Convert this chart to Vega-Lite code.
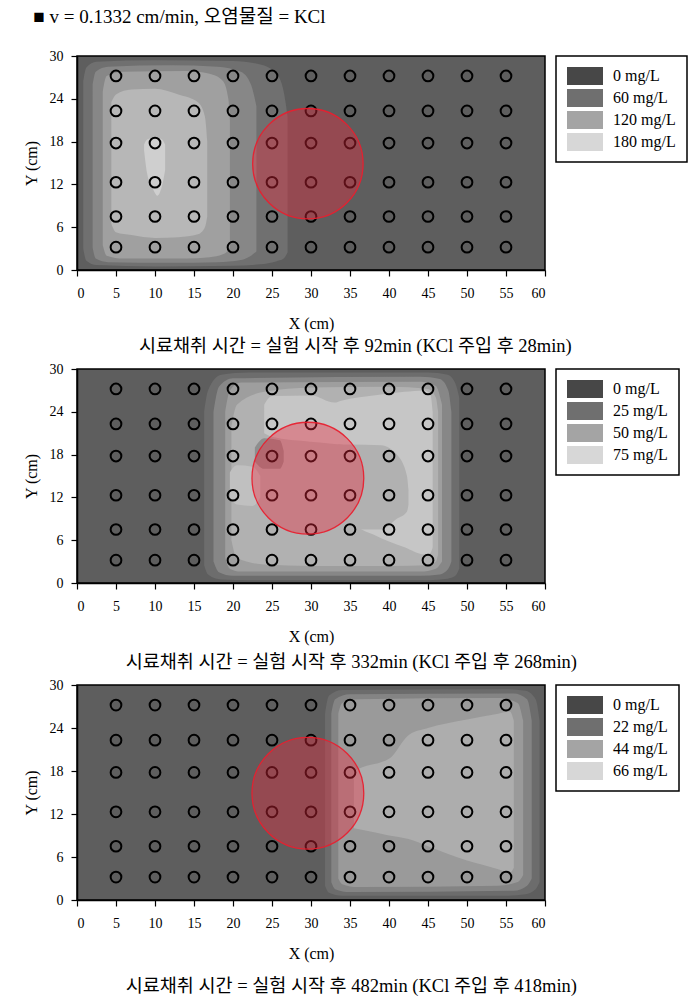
{
  "$schema": "https://vega.github.io/schema/vega-lite/v6.json",
  "background": "white",
  "padding": {"left": 22, "top": 8, "right": 4, "bottom": 5},
  "title": {"text": "■  v = 0.1332 cm/min,  오염물질 = KCl", "anchor": "start", "frame": "bounds", "font": "Liberation Serif, Noto Sans CJK KR", "fontSize": 19, "fontWeight": "normal", "color": "#000", "offset": 21, "dx": 11},
  "config": {
    "font": "Liberation Serif",
    "view": {"fill": "#5e5e5e", "stroke": "#000000", "strokeWidth": 1.5},
    "axis": {"grid": false, "domainColor": "#000", "domainWidth": 1.5, "tickColor": "#000", "tickSize": 6, "tickWidth": 1.2, "labelFont": "Liberation Serif", "labelFontSize": 14, "labelColor": "#000", "labelOverlap": false, "titleFont": "Liberation Serif", "titleFontSize": 16, "titleFontWeight": "normal", "titleColor": "#000"},
    "axisX": {"labelPadding": 10, "titlePadding": 15, "labelAngle": 0, "labelOverlap": false, "labelSeparation": 0},
    "axisY": {"labelPadding": 8, "titlePadding": 10},
    "legend": {"orient": "right", "offset": 11, "padding": 11, "strokeColor": "#000", "strokeWidth": 1.5, "fillColor": "#ffffff", "symbolType": "M-2,-1H2V1H-2Z", "symbolSize": 324, "symbolOffset": 9, "symbolStrokeWidth": 0, "symbolOpacity": 1, "labelFont": "Liberation Serif", "labelFontSize": 16, "labelColor": "#000", "labelOffset": 19, "rowPadding": 4, "labelLimit": 200},
    "title": {"font": "Liberation Serif, Noto Sans CJK KR", "fontSize": 18.5, "fontWeight": "normal", "color": "#000"}
  },
  "datasets": {
    "pts": [
      {"x": 5, "y": 3.2}, {"x": 10, "y": 3.2}, {"x": 15, "y": 3.2}, {"x": 20, "y": 3.2}, {"x": 25, "y": 3.2}, {"x": 30, "y": 3.2}, {"x": 35, "y": 3.2}, {"x": 40, "y": 3.2}, {"x": 45, "y": 3.2}, {"x": 50, "y": 3.2}, {"x": 55, "y": 3.2},
      {"x": 5, "y": 7.5}, {"x": 10, "y": 7.5}, {"x": 15, "y": 7.5}, {"x": 20, "y": 7.5}, {"x": 25, "y": 7.5}, {"x": 30, "y": 7.5}, {"x": 35, "y": 7.5}, {"x": 40, "y": 7.5}, {"x": 45, "y": 7.5}, {"x": 50, "y": 7.5}, {"x": 55, "y": 7.5},
      {"x": 5, "y": 12.3}, {"x": 10, "y": 12.3}, {"x": 15, "y": 12.3}, {"x": 20, "y": 12.3}, {"x": 25, "y": 12.3}, {"x": 30, "y": 12.3}, {"x": 35, "y": 12.3}, {"x": 40, "y": 12.3}, {"x": 45, "y": 12.3}, {"x": 50, "y": 12.3}, {"x": 55, "y": 12.3},
      {"x": 5, "y": 17.8}, {"x": 10, "y": 17.8}, {"x": 15, "y": 17.8}, {"x": 20, "y": 17.8}, {"x": 25, "y": 17.8}, {"x": 30, "y": 17.8}, {"x": 35, "y": 17.8}, {"x": 40, "y": 17.8}, {"x": 45, "y": 17.8}, {"x": 50, "y": 17.8}, {"x": 55, "y": 17.8},
      {"x": 5, "y": 22.3}, {"x": 10, "y": 22.3}, {"x": 15, "y": 22.3}, {"x": 20, "y": 22.3}, {"x": 25, "y": 22.3}, {"x": 30, "y": 22.3}, {"x": 35, "y": 22.3}, {"x": 40, "y": 22.3}, {"x": 45, "y": 22.3}, {"x": 50, "y": 22.3}, {"x": 55, "y": 22.3},
      {"x": 5, "y": 27.2}, {"x": 10, "y": 27.2}, {"x": 15, "y": 27.2}, {"x": 20, "y": 27.2}, {"x": 25, "y": 27.2}, {"x": 30, "y": 27.2}, {"x": 35, "y": 27.2}, {"x": 40, "y": 27.2}, {"x": 45, "y": 27.2}, {"x": 50, "y": 27.2}, {"x": 55, "y": 27.2}
    ],
    "c1": [{"x": 29.6, "y": 14.9}],
    "c2": [{"x": 29.6, "y": 14.7}],
    "c3": [{"x": 29.6, "y": 14.9}],
    "p1": [
      {"band": "A", "x": 0.8, "top": 26.5, "bot": 3},
      {"band": "A", "x": 1.2, "top": 28.4, "bot": 1.3},
      {"band": "A", "x": 2.5, "top": 29.2, "bot": 0.7},
      {"band": "A", "x": 10, "top": 29.4, "bot": 0.5},
      {"band": "A", "x": 20, "top": 29.3, "bot": 0.6},
      {"band": "A", "x": 23.5, "top": 28.8, "bot": 0.8},
      {"band": "A", "x": 25.5, "top": 27.6, "bot": 1.2},
      {"band": "A", "x": 26.5, "top": 25, "bot": 1.6},
      {"band": "A", "x": 27, "top": 21.5, "bot": 2.5},
      {"band": "B", "x": 2.0, "top": 26, "bot": 3.2},
      {"band": "B", "x": 2.4, "top": 27.8, "bot": 1.6},
      {"band": "B", "x": 4, "top": 28.5, "bot": 1.1},
      {"band": "B", "x": 12, "top": 28.7, "bot": 1.0},
      {"band": "B", "x": 18, "top": 28.5, "bot": 1.1},
      {"band": "B", "x": 21, "top": 27.8, "bot": 1.4},
      {"band": "B", "x": 22.3, "top": 26, "bot": 2},
      {"band": "B", "x": 23, "top": 23, "bot": 2.6},
      {"band": "C", "x": 3.3, "top": 25, "bot": 3.5},
      {"band": "C", "x": 3.8, "top": 27.2, "bot": 2},
      {"band": "C", "x": 6, "top": 27.8, "bot": 1.6},
      {"band": "C", "x": 14, "top": 27.9, "bot": 1.6},
      {"band": "C", "x": 17, "top": 27.5, "bot": 1.8},
      {"band": "C", "x": 18.7, "top": 26.5, "bot": 2.2},
      {"band": "C", "x": 19.4, "top": 24, "bot": 2.8},
      {"band": "C", "x": 19.6, "top": 21, "bot": 3.2},
      {"band": "D", "x": 4.4, "top": 23.5, "bot": 6.5},
      {"band": "D", "x": 5, "top": 24.6, "bot": 5.3},
      {"band": "D", "x": 7, "top": 25.3, "bot": 4.9},
      {"band": "D", "x": 10, "top": 25.4, "bot": 4.5},
      {"band": "D", "x": 13, "top": 24.6, "bot": 4.6},
      {"band": "D", "x": 15.5, "top": 23.5, "bot": 5},
      {"band": "D", "x": 16.4, "top": 21.5, "bot": 6},
      {"band": "D", "x": 16.7, "top": 18, "bot": 7.5},
      {"band": "E", "x": 8.6, "top": 17.6, "bot": 16.8},
      {"band": "E", "x": 9.0, "top": 18.3, "bot": 13.5},
      {"band": "E", "x": 9.8, "top": 18.5, "bot": 11.2},
      {"band": "E", "x": 10.3, "top": 18.5, "bot": 10.4},
      {"band": "E", "x": 10.9, "top": 18.3, "bot": 11.8},
      {"band": "E", "x": 11.3, "top": 17.6, "bot": 14}
    ],
    "p2": [
      {"band": "A", "x": 16.3, "top": 24, "bot": 2.5},
      {"band": "A", "x": 16.8, "top": 27, "bot": 1.2},
      {"band": "A", "x": 18.5, "top": 29.2, "bot": 0.5},
      {"band": "A", "x": 22, "top": 29.5, "bot": 0.4},
      {"band": "A", "x": 45, "top": 29.5, "bot": 0.4},
      {"band": "A", "x": 47.5, "top": 29.2, "bot": 0.6},
      {"band": "A", "x": 48.5, "top": 28, "bot": 1},
      {"band": "A", "x": 49, "top": 26, "bot": 2},
      {"band": "B", "x": 17.5, "top": 24, "bot": 3},
      {"band": "B", "x": 18.2, "top": 27.5, "bot": 1.5},
      {"band": "B", "x": 20, "top": 28.7, "bot": 1},
      {"band": "B", "x": 44, "top": 28.9, "bot": 1},
      {"band": "B", "x": 46.5, "top": 28.6, "bot": 1.2},
      {"band": "B", "x": 47.6, "top": 27, "bot": 2},
      {"band": "B", "x": 48, "top": 24, "bot": 3},
      {"band": "C", "x": 19, "top": 24, "bot": 3.5},
      {"band": "C", "x": 19.6, "top": 27, "bot": 2},
      {"band": "C", "x": 21, "top": 28.1, "bot": 1.6},
      {"band": "C", "x": 44, "top": 28.2, "bot": 1.6},
      {"band": "C", "x": 46, "top": 27.6, "bot": 2},
      {"band": "C", "x": 46.8, "top": 25, "bot": 3},
      {"band": "D", "x": 19.8, "top": 22, "bot": 6},
      {"band": "D", "x": 20.5, "top": 25, "bot": 3.5},
      {"band": "D", "x": 24, "top": 26.8, "bot": 2.6},
      {"band": "D", "x": 30, "top": 27.4, "bot": 2.4},
      {"band": "D", "x": 40, "top": 27.5, "bot": 2.4},
      {"band": "D", "x": 45, "top": 27.2, "bot": 2.5},
      {"band": "D", "x": 46, "top": 26, "bot": 3},
      {"band": "D", "x": 46.3, "top": 24, "bot": 4},
      {"band": "E", "x": 24, "top": 25, "bot": 21},
      {"band": "E", "x": 25, "top": 26.2, "bot": 20.5},
      {"band": "E", "x": 30, "top": 26.3, "bot": 19.8},
      {"band": "E", "x": 33, "top": 25.3, "bot": 19.5},
      {"band": "E", "x": 34, "top": 25.6, "bot": 19.4},
      {"band": "E", "x": 36, "top": 26, "bot": 8},
      {"band": "E", "x": 38, "top": 26.3, "bot": 6.8},
      {"band": "E", "x": 42, "top": 26.8, "bot": 5},
      {"band": "E", "x": 44.5, "top": 27, "bot": 4},
      {"band": "E", "x": 45.3, "top": 26.5, "bot": 4.2},
      {"band": "E", "x": 45.6, "top": 24, "bot": 5},
      {"band": "N", "x": 33.5, "top": 19.4, "bot": 19.3},
      {"band": "N", "x": 35, "top": 19.4, "bot": 7.5},
      {"band": "N", "x": 39, "top": 19.3, "bot": 7.5},
      {"band": "N", "x": 41, "top": 18, "bot": 9},
      {"band": "N", "x": 42.3, "top": 15, "bot": 10},
      {"band": "N", "x": 42.5, "top": 13, "bot": 11},
      {"band": "E2", "x": 19.6, "top": 15.5, "bot": 12},
      {"band": "E2", "x": 20.5, "top": 16.5, "bot": 11},
      {"band": "E2", "x": 22.5, "top": 16.3, "bot": 10.8},
      {"band": "E2", "x": 23.5, "top": 15, "bot": 12},
      {"band": "K", "x": 22.8, "top": 19, "bot": 17},
      {"band": "K", "x": 24, "top": 20.3, "bot": 16},
      {"band": "K", "x": 26, "top": 20, "bot": 16},
      {"band": "K", "x": 26.5, "top": 18.5, "bot": 17}
    ],
    "p3": [
      {"band": "A", "x": 31.8, "top": 26, "bot": 2},
      {"band": "A", "x": 32.3, "top": 28.5, "bot": 1},
      {"band": "A", "x": 34, "top": 29.3, "bot": 0.6},
      {"band": "A", "x": 55, "top": 29.4, "bot": 0.6},
      {"band": "A", "x": 57.5, "top": 29.2, "bot": 0.8},
      {"band": "A", "x": 58.8, "top": 28, "bot": 1.5},
      {"band": "A", "x": 59.3, "top": 25, "bot": 2.5},
      {"band": "B", "x": 32.6, "top": 26, "bot": 2.5},
      {"band": "B", "x": 33.1, "top": 28, "bot": 1.5},
      {"band": "B", "x": 35, "top": 28.7, "bot": 1.1},
      {"band": "B", "x": 56, "top": 28.8, "bot": 1.3},
      {"band": "B", "x": 57.7, "top": 28, "bot": 2},
      {"band": "B", "x": 58.3, "top": 25, "bot": 3},
      {"band": "C", "x": 33.5, "top": 26, "bot": 3},
      {"band": "C", "x": 34, "top": 27.5, "bot": 2.2},
      {"band": "C", "x": 36, "top": 28, "bot": 1.8},
      {"band": "C", "x": 54, "top": 28.2, "bot": 2},
      {"band": "C", "x": 56.5, "top": 27.5, "bot": 2.5},
      {"band": "C", "x": 57.2, "top": 25, "bot": 3.5},
      {"band": "D", "x": 35.5, "top": 18, "bot": 10},
      {"band": "D", "x": 36.5, "top": 18.5, "bot": 9.8},
      {"band": "D", "x": 40, "top": 19.7, "bot": 9},
      {"band": "D", "x": 42.5, "top": 23, "bot": 8.5},
      {"band": "D", "x": 45, "top": 24, "bot": 7.5},
      {"band": "D", "x": 50, "top": 25.2, "bot": 5.5},
      {"band": "D", "x": 54, "top": 26, "bot": 4.3},
      {"band": "D", "x": 55.5, "top": 26.3, "bot": 3.8},
      {"band": "D", "x": 56, "top": 25, "bot": 4.5}
    ]
  },
  "vconcat": [
    {
      "width": 468, "height": 214,
      "title": {"text": "시료채취 시간 = 실험 시작 후 92min (KCl 주입 후 28min)", "orient": "bottom", "anchor": "middle", "frame": "bounds", "offset": 6},
      "layer": [
        {"data": {"name": "p1"}, "mark": {"type": "area", "interpolate": "monotone", "opacity": 1},
         "encoding": {
           "x": {"field": "x", "type": "quantitative", "scale": {"domain": [0, 60], "nice": false}, "axis": {"values": [0,5,10,15,20,25,30,35,40,45,50,55,60], "tickCount": 13, "labelOverlap": false, "title": "X (cm)"}},
           "y": {"field": "top", "type": "quantitative", "stack": null, "scale": {"domain": [0, 30], "nice": false}, "axis": {"values": [0,6,12,18,24,30], "title": "Y (cm)"}},
           "y2": {"field": "bot"},
           "color": {"field": "band", "type": "nominal", "scale": {"domain": ["0 mg/L", "60 mg/L", "120 mg/L", "180 mg/L", "A", "B", "C", "D", "E"], "range": ["#474747", "#6f6f6f", "#a4a4a4", "#d7d7d7", "#707070", "#878787", "#a0a0a0", "#b7b7b7", "#cfcfcf"]}, "legend": {"values": ["0 mg/L", "60 mg/L", "120 mg/L", "180 mg/L"], "title": null, "symbolType": "M-2,-1H2V1H-2Z"}}
         }},
        {"data": {"name": "pts"}, "mark": {"type": "point", "shape": "circle", "filled": false, "stroke": "#000", "strokeWidth": 2, "size": 115, "opacity": 1},
         "encoding": {"x": {"field": "x", "type": "quantitative", "axis": {"values": [0,5,10,15,20,25,30,35,40,45,50,55,60], "tickCount": 13, "labelOverlap": false, "title": "X (cm)"}}, "y": {"field": "y", "type": "quantitative"}}},
        {"data": {"name": "c1"}, "mark": {"type": "point", "shape": "circle", "filled": true, "fill": "#f0283c", "fillOpacity": 0.38, "stroke": "#e8202f", "strokeWidth": 1.3, "strokeOpacity": 0.95, "opacity": 1, "size": 12200},
         "encoding": {"x": {"field": "x", "type": "quantitative", "axis": {"values": [0,5,10,15,20,25,30,35,40,45,50,55,60], "tickCount": 13, "labelOverlap": false, "title": "X (cm)"}}, "y": {"field": "y", "type": "quantitative"}}}
      ]
    },
    {
      "width": 468, "height": 214,
      "title": {"text": "시료채취 시간 = 실험 시작 후 332min (KCl 주입 후 268min)", "orient": "bottom", "anchor": "middle", "frame": "bounds", "offset": 9},
      "layer": [
        {"data": {"name": "p2"}, "mark": {"type": "area", "interpolate": "monotone", "opacity": 1},
         "encoding": {
           "x": {"field": "x", "type": "quantitative", "scale": {"domain": [0, 60], "nice": false}, "axis": {"values": [0,5,10,15,20,25,30,35,40,45,50,55,60], "tickCount": 13, "labelOverlap": false, "title": "X (cm)"}},
           "y": {"field": "top", "type": "quantitative", "stack": null, "scale": {"domain": [0, 30], "nice": false}, "axis": {"values": [0,6,12,18,24,30], "title": "Y (cm)"}},
           "y2": {"field": "bot"},
           "color": {"field": "band", "type": "nominal", "scale": {"domain": ["0 mg/L", "25 mg/L", "50 mg/L", "75 mg/L", "A", "B", "C", "D", "E", "N", "E2", "K"], "range": ["#474747", "#6f6f6f", "#a4a4a4", "#d7d7d7", "#6d6d6d", "#878787", "#9e9e9e", "#b1b1b1", "#c6c6c6", "#b1b1b1", "#c0c0c0", "#8e8e8e"]}, "legend": {"values": ["0 mg/L", "25 mg/L", "50 mg/L", "75 mg/L"], "title": null, "symbolType": "M-2,-1H2V1H-2Z"}}
         }},
        {"data": {"name": "pts"}, "mark": {"type": "point", "shape": "circle", "filled": false, "stroke": "#000", "strokeWidth": 2, "size": 115, "opacity": 1},
         "encoding": {"x": {"field": "x", "type": "quantitative", "axis": {"values": [0,5,10,15,20,25,30,35,40,45,50,55,60], "tickCount": 13, "labelOverlap": false, "title": "X (cm)"}}, "y": {"field": "y", "type": "quantitative"}}},
        {"data": {"name": "c2"}, "mark": {"type": "point", "shape": "circle", "filled": true, "fill": "#f0283c", "fillOpacity": 0.38, "stroke": "#e8202f", "strokeWidth": 1.3, "strokeOpacity": 0.95, "opacity": 1, "size": 12500},
         "encoding": {"x": {"field": "x", "type": "quantitative", "axis": {"values": [0,5,10,15,20,25,30,35,40,45,50,55,60], "tickCount": 13, "labelOverlap": false, "title": "X (cm)"}}, "y": {"field": "y", "type": "quantitative"}}}
      ]
    },
    {
      "width": 468, "height": 215,
      "title": {"text": "시료채취 시간 = 실험 시작 후 482min (KCl 주입 후 418min)", "orient": "bottom", "anchor": "middle", "frame": "bounds", "offset": 16},
      "layer": [
        {"data": {"name": "p3"}, "mark": {"type": "area", "interpolate": "monotone", "opacity": 1},
         "encoding": {
           "x": {"field": "x", "type": "quantitative", "scale": {"domain": [0, 60], "nice": false}, "axis": {"values": [0,5,10,15,20,25,30,35,40,45,50,55,60], "tickCount": 13, "labelOverlap": false, "title": "X (cm)"}},
           "y": {"field": "top", "type": "quantitative", "stack": null, "scale": {"domain": [0, 30], "nice": false}, "axis": {"values": [0,6,12,18,24,30], "title": "Y (cm)"}},
           "y2": {"field": "bot"},
           "color": {"field": "band", "type": "nominal", "scale": {"domain": ["0 mg/L", "22 mg/L", "44 mg/L", "66 mg/L", "A", "B", "C", "D"], "range": ["#474747", "#6f6f6f", "#a4a4a4", "#d7d7d7", "#6c6c6c", "#848484", "#9a9a9a", "#adadad"]}, "legend": {"values": ["0 mg/L", "22 mg/L", "44 mg/L", "66 mg/L"], "title": null, "symbolType": "M-2,-1H2V1H-2Z"}}
         }},
        {"data": {"name": "pts"}, "mark": {"type": "point", "shape": "circle", "filled": false, "stroke": "#000", "strokeWidth": 2, "size": 115, "opacity": 1},
         "encoding": {"x": {"field": "x", "type": "quantitative", "axis": {"values": [0,5,10,15,20,25,30,35,40,45,50,55,60], "tickCount": 13, "labelOverlap": false, "title": "X (cm)"}}, "y": {"field": "y", "type": "quantitative"}}},
        {"data": {"name": "c3"}, "mark": {"type": "point", "shape": "circle", "filled": true, "fill": "#f0283c", "fillOpacity": 0.38, "stroke": "#e8202f", "strokeWidth": 1.3, "strokeOpacity": 0.95, "opacity": 1, "size": 12500},
         "encoding": {"x": {"field": "x", "type": "quantitative", "axis": {"values": [0,5,10,15,20,25,30,35,40,45,50,55,60], "tickCount": 13, "labelOverlap": false, "title": "X (cm)"}}, "y": {"field": "y", "type": "quantitative"}}}
      ]
    }
  ],
  "spacing": 4,
  "resolve": {"scale": {"color": "independent"}, "legend": {"color": "independent"}}
}
